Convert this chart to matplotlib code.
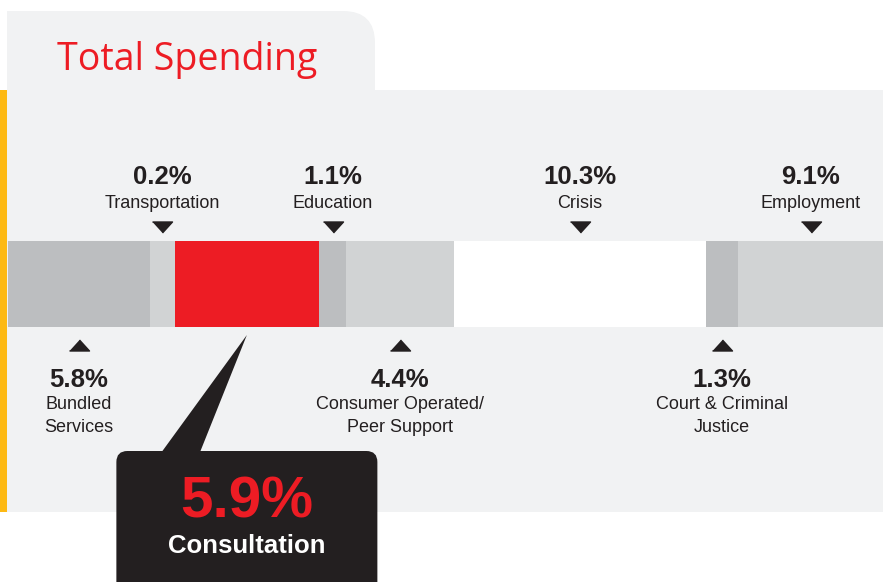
import numpy as np
import matplotlib.pyplot as plt
from matplotlib.patches import Rectangle, FancyBboxPatch, Polygon

# data
categories = ["Bundled\nServices", "Transportation", "Consultation", "Education",
              "Consumer Operated/\nPeer Support", "Crisis", "Court & Criminal\nJustice", "Employment"]
shares = [5.8, 0.2, 5.9, 1.1, 4.4, 10.3, 1.3, 9.1]
label_side = ["below", "above", "callout", "above", "below", "above", "below", "above"]
seg_colors = ["#bcbec0", "#d1d3d4", "#ed1c24", "#bcbec0", "#d1d3d4", "#ffffff", "#bcbec0", "#d1d3d4"]

DARK = "#231f20"
RED = "#ed1c24"
PANEL = "#f1f2f3"
FONT = "Liberation Sans"

# tiny segments get a minimum width so they stay visible
widths = np.maximum(np.array(shares), 1.0)
starts = np.concatenate([[0], np.cumsum(widths)[:-1]])

fig = plt.figure(figsize=(8.83, 5.82), dpi=100)
fig.patch.set_facecolor("white")

# background layer in pixel coordinates
bg = fig.add_axes([0, 0, 1, 1])
bg.set_xlim(0, 883)
bg.set_ylim(582, 0)
bg.axis("off")
bg.add_patch(FancyBboxPatch((7, 11), 368, 120, boxstyle="round,pad=0,rounding_size=32",
                            fc=PANEL, ec="none"))
bg.add_patch(Rectangle((7, 11), 60, 60, fc=PANEL, ec="none"))
bg.add_patch(Rectangle((7, 90), 876, 422, fc=PANEL, ec="none"))
bg.add_patch(Rectangle((0, 90), 7, 422, fc="#fdb913", ec="none"))
bg.text(57, 70, "Total Spending", color=RED, fontsize=27, family="Open Sans", va="baseline")

# bar layer: x in percent, y in pixels
px_per_pct = 24.5
ax = fig.add_axes([8 / 883, 0, 875 / 883, 1])
ax.set_xlim(0, 875 / px_per_pct)
ax.set_ylim(582, 0)
ax.axis("off")
ax.patch.set_visible(False)

bar_top, bar_bottom = 241, 327
ax.barh((bar_top + bar_bottom) / 2, widths, left=starts, height=bar_bottom - bar_top,
        color=seg_colors, edgecolor="none")

xmax = ax.get_xlim()[1]
down_tri = [(-1, 0.55), (1, 0.55), (0, -0.55)]
up_tri = [(-1, -0.55), (1, -0.55), (0, 0.55)]

for name, val, side, s, w in zip(categories, shares, label_side, starts, widths):
    cx = (s + min(s + w, xmax)) / 2
    pct = f"{val:.1f}%"
    if side == "above":
        ax.text(cx, 184, pct, ha="center", va="baseline", fontsize=18.5,
                fontweight="bold", family=FONT, color=DARK)
        ax.text(cx, 208, name, ha="center", va="baseline", fontsize=13,
                family=FONT, color=DARK)
        ax.plot(cx, 226.5, marker=down_tri, markersize=14.4, color=DARK, linestyle="none")
    elif side == "below":
        ax.plot(cx, 345, marker=up_tri, markersize=14.4, color=DARK, linestyle="none")
        ax.text(cx, 387, pct, ha="center", va="baseline", fontsize=18.5,
                fontweight="bold", family=FONT, color=DARK)
        for i, line in enumerate(name.split("\n")):
            ax.text(cx, 409 + 23 * i, line, ha="center", va="baseline", fontsize=13,
                    family=FONT, color=DARK)
    else:
        # callout box
        box_w = 261 / px_per_pct
        ax.add_patch(Polygon([(cx - 91 / px_per_pct, 460), (cx, bar_bottom + 8),
                              (cx - 50 / px_per_pct, 460)], closed=True, fc=DARK, ec="none",
                             zorder=4))
        ax.add_patch(FancyBboxPatch((cx - box_w / 2, 451), box_w, 200,
                                    boxstyle="round,pad=0,rounding_size=0.45",
                                    mutation_aspect=px_per_pct, fc=DARK, ec="none", zorder=4))
        ax.text(cx, 518, pct, ha="center", va="baseline", fontsize=42,
                fontweight="bold", family=FONT, color=RED, zorder=5)
        ax.text(cx, 553, name, ha="center", va="baseline", fontsize=18.5,
                fontweight="bold", family=FONT, color="white", zorder=5)

fig.savefig("out.png", dpi=100)
